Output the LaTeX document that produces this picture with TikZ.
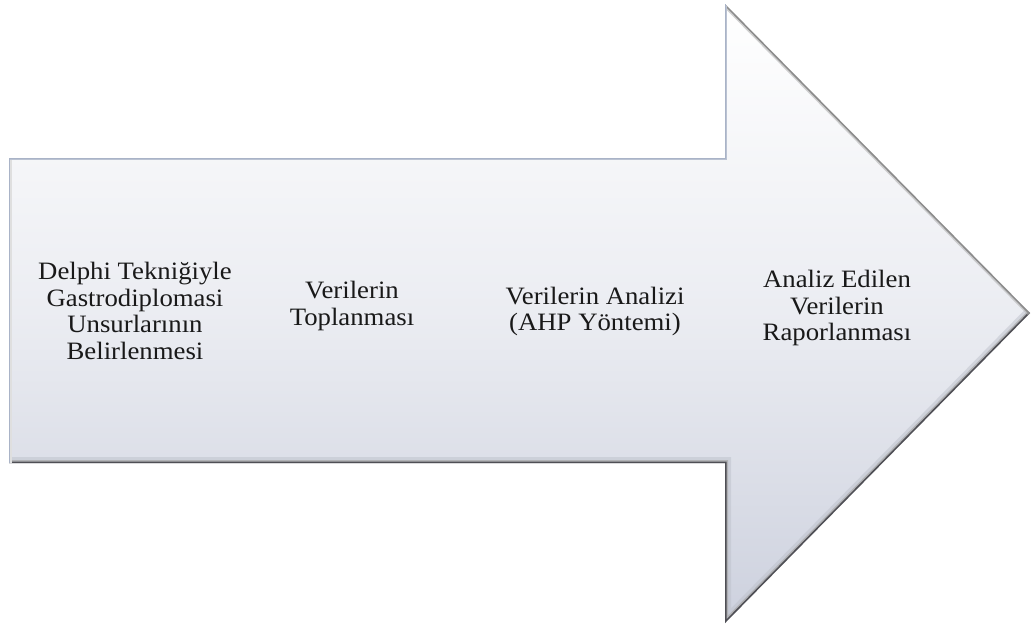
\documentclass[tikz,border=0pt]{standalone}
\usepackage{fontspec}
\setmainfont[FakeStretch=1.07]{Liberation Serif}
\definecolor{arrowbot}{HTML}{CDD1DE}
\definecolor{edgelight}{HTML}{A9B3C7}
\definecolor{edgedark}{HTML}{4F4F55}
\begin{document}
\begin{tikzpicture}[x=1pt,y=-1pt,
  lbl/.style={align=center,inner sep=0pt,font=\fontsize{25}{26.7}\selectfont,text=black!90}]
\useasboundingbox (0,0) rectangle (1033,630);
\fill[white] (0,0) rectangle (1033,630);
\coordinate (A) at (9,158);
\coordinate (B) at (725,158);
\coordinate (C) at (725,4);
\coordinate (D) at (1030,313);
\coordinate (E) at (725,623);
\coordinate (F) at (725,463);
\coordinate (G) at (9,463);
% body fill
\shade[top color=white,bottom color=arrowbot,middle color=white!60!arrowbot]
  (A)--(B)--(C)--(D)--(E)--(F)--(G)--cycle;
% inner bevels
\begin{scope}
  \clip (A)--(B)--(C)--(D)--(E)--(F)--(G)--cycle;
  \draw[line width=12pt,color=arrowbot!80!gray,opacity=0.5] (G)--(F)--(E)--(D);
  \draw[line width=6pt,color=gray!70,opacity=0.7] (G)--(F)--(E)--(D);
  \draw[line width=3pt,color=edgedark] (G)--(F)--(E)--(D);
  \draw[line width=6pt,color=gray!60,opacity=0.6] (C)--(D);
  \draw[line width=3pt,color=gray!110!black] (C)--(D);
  \draw[line width=6pt,color=gray!25] (A)--(G);
  \draw[line width=3pt,color=edgelight!80] (A)--(B)--(C);
\end{scope}
\draw[line width=0.6pt,color=edgelight] (G)--(A)--(B)--(C);
% labels
\node[lbl] (n1) at (135,311) {Delphi Tekniğiyle\\Gastrodiplomasi\\Unsurlarının\\Belirlenmesi};
\node[lbl] (n2) at (352,306) {Verilerin\\Toplanması};
\node[lbl] (n3) at (595,311.5) {Verilerin Analizi\\(AHP Yöntemi)};
\node[lbl] (n4) at (837,308) {Analiz Edilen\\Verilerin\\Raporlanması};
\end{tikzpicture}
\end{document}
